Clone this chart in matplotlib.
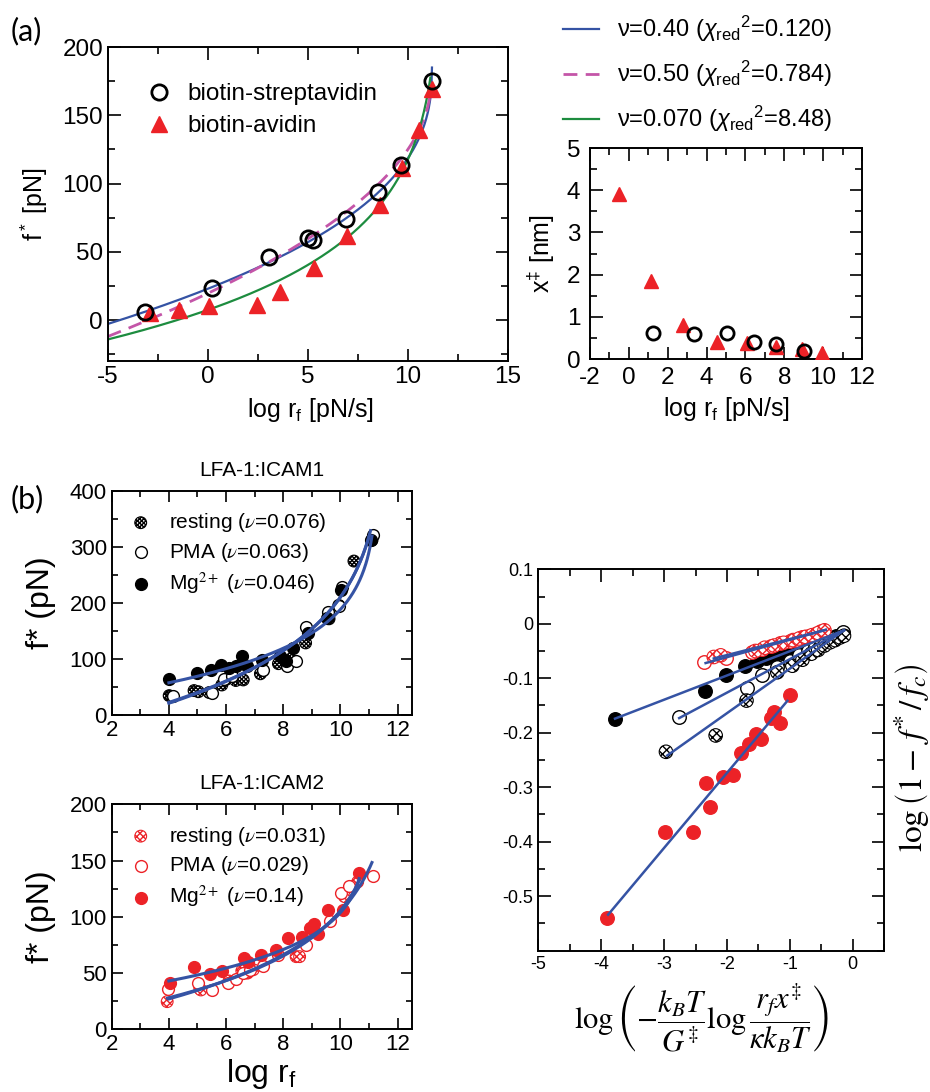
import numpy as np
import matplotlib
matplotlib.use('Agg')
import matplotlib.pyplot as plt
from matplotlib.ticker import MultipleLocator, FixedLocator

plt.rcParams['font.family'] = ['Liberation Sans', 'DejaVu Sans']
plt.rcParams['axes.unicode_minus'] = False
plt.rcParams['mathtext.fontset'] = 'custom'
plt.rcParams['mathtext.rm'] = 'Liberation Sans'
plt.rcParams['mathtext.it'] = 'Liberation Sans:italic'
plt.rcParams['hatch.linewidth'] = 1.0
plt.rcParams['axes.linewidth'] = 1.4

BLUE = '#3553a4'
MAGENTA = '#c455a8'
GREEN = '#1d8c3f'
RED = '#ec2227'

# ---------------- (a) biotin-streptavidin / biotin-avidin ----------------
sa_logr = [-3.15, 0.22, 3.03, 5.02, 5.27, 6.9, 8.52, 9.65, 11.18]
sa_force = [6.1, 23.4, 46.0, 59.8, 58.3, 73.8, 93.5, 113.9, 175.0]
av_logr = [-2.9, -1.45, 0.07, 2.43, 3.6, 5.3, 6.93, 8.6, 9.72, 10.55, 11.18]
av_force = [5.0, 7.4, 10.3, 11.0, 20.8, 38.5, 61.3, 84.0, 111.5, 139.0, 169.0]

# fitted curves f = fc * (1 - (b (Lc - log r))^nu)
fit_a_nu = [0.40, 0.50, 0.070]
fit_a_fc = [185.0, 175.0, 859.0]
fit_a_b = [0.0641, 0.0707, 0.0761]
fit_a_lc = [11.2, 11.15, 11.6]
fit_a_end = [11.2, 11.08, 11.12]
fit_a_chi = ['0.120', '0.784', '8.48']
fit_a_nu_txt = ['0.40', '0.50', '0.070']

# transition-state distance
xd_sa_logr = [1.26, 3.37, 5.03, 6.44, 7.57, 9.0]
xd_sa = [0.62, 0.59, 0.61, 0.41, 0.36, 0.20]
xd_av_logr = [-0.51, 1.14, 2.8, 4.55, 6.06, 7.57, 8.9, 9.92]
xd_av = [3.9, 1.85, 0.80, 0.41, 0.37, 0.29, 0.23, 0.15]

# ---------------- (b) LFA-1 ----------------
i1_rest_x = [4.01, 4.10, 4.88, 5.03, 5.41, 5.85, 6.0, 6.34, 6.6, 7.2, 7.83, 8.25, 8.78, 9.6, 9.94, 10.47, 11.1]
i1_rest_y = [35, 33, 44, 42, 40.5, 54, 64, 62, 63, 74, 92, 100, 129, 172, 196, 275, 312]
i1_pma_x = [4.13, 5.52, 5.93, 6.2, 7.3, 8.14, 8.43, 8.78, 9.57, 9.94, 10.05, 11.15]
i1_pma_y = [35, 39, 65, 70, 80, 87, 96, 157, 184, 194, 228, 322]
i1_mg_x = [4.01, 4.97, 5.47, 5.81, 6.1, 6.34, 6.57, 6.74, 7.27, 7.9, 8.08, 8.35, 8.85, 9.53, 10.03, 11.05]
i1_mg_y = [64, 76, 81, 90, 84, 87, 106, 88, 99, 106, 96, 120, 147, 173, 224, 313]

i2_rest_x = [3.94, 5.08, 5.12, 6.1, 6.55, 6.75, 6.95, 8.45, 8.57, 8.98, 10.14, 10.43, 10.6]
i2_rest_y = [24.6, 36, 35, 43, 52, 50, 53, 64.6, 64.6, 90, 118, 127, 131]
i2_pma_x = [3.98, 5.02, 5.49, 6.07, 6.36, 6.6, 6.83, 7.29, 7.81, 8.8, 9.62, 10.02, 10.3, 11.13]
i2_pma_y = [35.6, 40.9, 35, 41, 45, 50, 53, 56, 66, 75, 96, 121, 127, 136]
i2_mg_x = [4.03, 4.87, 5.43, 5.84, 6.62, 6.77, 7.23, 7.76, 8.16, 8.66, 8.92, 9.06, 9.21, 9.56, 10.08, 10.66]
i2_mg_y = [40.9, 55.7, 49.2, 52, 63, 60, 66, 70.5, 81, 82, 90, 94, 85, 106, 106, 139]

# fit parameters: rest, PMA, Mg2+
i1_nu = [0.076, 0.063, 0.046]
i1_fc = [1717.0, 2032.0, 1773.0]
i1_b = [0.1115, 0.1099, 0.0665]
i1_lc = [11.6, 11.6, 11.3]
i1_range = [(4.0, 11.0), (4.0, 11.05), (4.0, 11.1)]
i2_nu = [0.031, 0.029, 0.14]
i2_fc = [1621.0, 2002.0, 288.0]
i2_b = [0.0759, 0.0782, 0.0457]
i2_lc = [11.5, 12.0, 10.9]
i2_range = [(3.95, 10.65), (4.0, 11.1), (4.0, 10.65)]

# rescaled coordinates, same order: rest1, pma1, mg1, rest2, pma2, mg2
sc_rest1_x = [-2.97, -2.18, -1.69, -1.2, -0.96, -0.8, -0.66, -0.55, -0.45, -0.36, -0.28, -0.2, -0.14]
sc_rest1_y = [-0.235, -0.205, -0.141, -0.089, -0.077, -0.066, -0.055, -0.048, -0.040, -0.034, -0.030, -0.025, -0.022]
sc_pma1_x = [-2.77, -1.68, -1.44, -1.2, -1.0, -0.85, -0.72, -0.6, -0.5, -0.4, -0.3, -0.2, -0.15]
sc_pma1_y = [-0.172, -0.118, -0.094, -0.080, -0.068, -0.058, -0.050, -0.043, -0.037, -0.032, -0.027, -0.020, -0.016]
sc_mg1_x = [-3.78, -2.35, -2.02, -1.71, -1.52, -1.38, -1.25, -1.12, -1.0, -0.88, -0.78, -0.66, -0.55, -0.45, -0.36, -0.27]
sc_mg1_y = [-0.174, -0.123, -0.094, -0.078, -0.068, -0.063, -0.058, -0.054, -0.050, -0.046, -0.043, -0.039, -0.035, -0.031, -0.027, -0.023]
sc_rest2_x = [-2.21, -2.1, -1.55, -1.4, -1.25, -1.1, -0.95, -0.85, -0.75, -0.65, -0.55, -0.45]
sc_rest2_y = [-0.061, -0.058, -0.050, -0.044, -0.040, -0.035, -0.030, -0.027, -0.024, -0.021, -0.017, -0.012]
sc_pma2_x = [-2.36, -2.02, -1.6, -1.45, -1.3, -1.15, -1.0, -0.9, -0.8, -0.7, -0.6, -0.5]
sc_pma2_y = [-0.071, -0.063, -0.052, -0.046, -0.040, -0.036, -0.031, -0.029, -0.025, -0.022, -0.018, -0.014]
sc_mg2_x = [-3.91, -2.99, -2.54, -2.27, -2.33, -2.06, -1.9, -1.78, -1.65, -1.46, -1.54, -1.15, -1.30, -1.25, -1.0]
sc_mg2_y = [-0.540, -0.383, -0.383, -0.336, -0.292, -0.281, -0.277, -0.237, -0.220, -0.211, -0.203, -0.183, -0.173, -0.162, -0.131]
lin_slope = [0.0818, 0.0615, 0.0445, 0.0295, 0.0319, 0.1377]
lin_icpt = [-0.0005, -0.0034, -0.0059, 0.0015, 0.0025, 0.0017]
lin_range = [(-2.95, -0.14), (-2.76, -0.14), (-3.78, -0.14), (-2.21, -0.43), (-2.34, -0.43), (-3.89, -1.04)]


def dudko(logr, nu, fc, b, lc):
    return fc * (1.0 - (b * np.clip(lc - logr, 0, None)) ** nu)


def style_axes(ax, size):
    ax.tick_params(which='both', direction='in', top=True, right=True, labelsize=size, width=1.2)
    ax.tick_params(which='major', length=9)
    ax.tick_params(which='minor', length=5)


fig = plt.figure(figsize=(9.3, 10.92), dpi=100)

# ---- (a) left
ax1 = fig.add_axes([0.1161, 0.6694, 0.4301, 0.2875])
line_cols = [BLUE, MAGENTA, GREEN]
line_styles = ['-', (0, (5, 3)), '-']
fit_handles = []
for k in range(3):
    lr = np.linspace(-5, fit_a_end[k], 600)
    h, = ax1.plot(lr, dudko(lr, fit_a_nu[k], fit_a_fc[k], fit_a_b[k], fit_a_lc[k]),
                  color=line_cols[k], ls=line_styles[k], lw=1.6 if k != 1 else 2.0,
                  label='ν=%s ($\\chi_{\\rm red}{}^{2}$=%s)' % (fit_a_nu_txt[k], fit_a_chi[k]))
    fit_handles.append(h)
ax1.plot(av_logr, av_force, ls='none', marker='^', ms=11, color=RED, mec=RED, label='biotin-avidin', zorder=3)
ax1.plot(sa_logr, sa_force, ls='none', marker='o', ms=11, mfc='none', mec='black', mew=2, label='biotin-streptavidin', zorder=4)
ax1.set_xlim(-5, 15)
ax1.set_ylim(-30, 200)
ax1.xaxis.set_major_locator(MultipleLocator(5))
ax1.xaxis.set_minor_locator(MultipleLocator(2.5))
ax1.yaxis.set_major_locator(MultipleLocator(50))
ax1.yaxis.set_minor_locator(MultipleLocator(25))
style_axes(ax1, 17.5)
ax1.set_xlabel('log r$_\\mathrm{f}$ [pN/s]', fontsize=18)
ax1.xaxis.set_label_coords(0.505, -0.11)
ax1.set_ylabel('f$^*$ [pN]', fontsize=18)
ax1.yaxis.set_label_coords(-0.145, 0.5)
hs, ls_ = ax1.get_legend_handles_labels()
ax1.legend([hs[4], hs[3]], [ls_[4], ls_[3]], loc='upper left', bbox_to_anchor=(0.09, 0.885),
           frameon=False, fontsize=17.5, handletextpad=0.6, labelspacing=0.42,
           borderpad=0, borderaxespad=0, handlelength=1.2)

fig.legend(fit_handles, [h.get_label() for h in fit_handles], loc='upper left',
           bbox_to_anchor=(0.605, 0.987), frameon=False, fontsize=17,
           handlelength=1.55, handletextpad=0.75, labelspacing=0.62, borderpad=0, borderaxespad=0)

# ---- (a) right
ax2 = fig.add_axes([0.6344, 0.6712, 0.2925, 0.1932])
ax2.plot(xd_av_logr, xd_av, ls='none', marker='^', ms=10, color=RED, zorder=3)
ax2.plot(xd_sa_logr, xd_sa, ls='none', marker='o', ms=9.5, mfc='none', mec='black', mew=2, zorder=4)
ax2.set_xlim(-2, 12)
ax2.set_ylim(0, 5)
ax2.xaxis.set_major_locator(MultipleLocator(2))
ax2.xaxis.set_minor_locator(MultipleLocator(1))
ax2.yaxis.set_major_locator(MultipleLocator(1))
ax2.yaxis.set_minor_locator(MultipleLocator(0.5))
style_axes(ax2, 17.5)
ax2.tick_params(axis='x', pad=6)
ax2.tick_params(axis='y', pad=7)
ax2.set_xlabel('log r$_\\mathrm{f}$ [pN/s]', fontsize=18)
ax2.xaxis.set_label_coords(0.5, -0.17)
ax2.set_ylabel('x$^{\u2021}$ [nm]', fontsize=18)
ax2.yaxis.set_label_coords(-0.12, 0.5)

fig.text(0.011, 0.985, '(a)', fontsize=22, family=['Lato', 'DejaVu Sans'], va='top')
fig.text(0.011, 0.556, '(b)', fontsize=22, family=['Lato', 'DejaVu Sans'], va='top')


def lfa_panel(ax, xs, ys, cols, labels, nus, fcs, bs, lcs, ranges, ymax, ymaj, title, hatch):
    kinds = ['hatch', 'open', 'fill']
    for k in range(3):
        if kinds[k] == 'hatch':
            ax.scatter(xs[k], ys[k], s=72, facecolor='white', edgecolor=cols, hatch=hatch,
                       linewidth=0.8, label=labels[k], zorder=3)
        elif kinds[k] == 'open':
            ax.scatter(xs[k], ys[k], s=72, facecolor='white', edgecolor=cols, linewidth=1.0,
                       label=labels[k], zorder=3)
        else:
            ax.scatter(xs[k], ys[k], s=72, facecolor=cols, edgecolor=cols, linewidth=1.0,
                       label=labels[k], zorder=3)
    for k in range(3):
        lr = np.linspace(ranges[k][0], ranges[k][1], 300)
        ax.plot(lr, dudko(lr, nus[k], fcs[k], bs[k], lcs[k]), color=BLUE, lw=2.2, zorder=4)
    ax.set_xlim(2, 12.5)
    ax.set_ylim(0, ymax)
    ax.xaxis.set_major_locator(FixedLocator([2, 4, 6, 8, 10, 12]))
    ax.xaxis.set_minor_locator(FixedLocator([3, 5, 7, 9, 11]))
    ax.yaxis.set_major_locator(MultipleLocator(ymaj))
    ax.yaxis.set_minor_locator(MultipleLocator(ymaj / 2))
    style_axes(ax, 16)
    ax.tick_params(which='major', length=8)
    ax.tick_params(which='minor', length=4)
    ax.set_ylabel('f* (pN)', fontsize=23)
    ax.yaxis.set_label_coords(-0.185, 0.5)
    ax.text(0.5, 1.067, title, transform=ax.transAxes, ha='center', va='baseline', fontsize=15)
    leg = ax.legend(loc='upper left', bbox_to_anchor=(0.055, 0.91), frameon=False, fontsize=15,
                    handletextpad=0.75, labelspacing=0.32, borderpad=0, borderaxespad=0,
                    scatterpoints=1, handlelength=1.2)
    for t in leg.get_texts():
        t.set_math_fontfamily('stix')


ax3 = fig.add_axes([0.1201, 0.3450, 0.3229, 0.2054])
lfa_panel(ax3, [i1_rest_x, i1_pma_x, i1_mg_x], [i1_rest_y, i1_pma_y, i1_mg_y], 'black',
          ['resting ($\\nu$=0.076)', 'PMA ($\\nu$=0.063)', 'Mg$^{2+}$ ($\\nu$=0.046)'],
          i1_nu, i1_fc, i1_b, i1_lc, i1_range, 400, 100, 'LFA-1:ICAM1', 'xxxxxxxx')

ax4 = fig.add_axes([0.1201, 0.0574, 0.3229, 0.2060])
lfa_panel(ax4, [i2_rest_x, i2_pma_x, i2_mg_x], [i2_rest_y, i2_pma_y, i2_mg_y], RED,
          ['resting ($\\nu$=0.031)', 'PMA ($\\nu$=0.029)', 'Mg$^{2+}$ ($\\nu$=0.14)'],
          i2_nu, i2_fc, i2_b, i2_lc, i2_range, 200, 50, 'LFA-1:ICAM2', 'xxxxx')
ax4.set_xlabel('log r$_\\mathrm{f}$', fontsize=23)
ax4.xaxis.set_label_coords(0.5, -0.125)

# ---- (b) right: rescaled plot
ax5 = fig.add_axes([0.5788, 0.1294, 0.3720, 0.3493])
sc_x = [sc_rest1_x, sc_pma1_x, sc_mg1_x, sc_rest2_x, sc_pma2_x, sc_mg2_x]
sc_y = [sc_rest1_y, sc_pma1_y, sc_mg1_y, sc_rest2_y, sc_pma2_y, sc_mg2_y]
sc_col = ['black', 'black', 'black', RED, RED, RED]
sc_kind = ['hatch', 'open', 'fill', 'hatch', 'open', 'fill']
for k in [2, 1, 0, 5, 4, 3]:
    if sc_kind[k] == 'hatch':
        ax5.scatter(sc_x[k], sc_y[k], s=95, facecolor='white', edgecolor=sc_col[k], hatch='xxxx',
                    linewidth=0.8, zorder=3)
    elif sc_kind[k] == 'open':
        ax5.scatter(sc_x[k], sc_y[k], s=95, facecolor='white', edgecolor=sc_col[k], linewidth=1.0, zorder=3)
    else:
        ax5.scatter(sc_x[k], sc_y[k], s=95, facecolor=sc_col[k], edgecolor=sc_col[k], linewidth=1.0, zorder=3)
for k in range(6):
    xx = np.array(lin_range[k])
    ax5.plot(xx, lin_icpt[k] + lin_slope[k] * xx, color=BLUE, lw=1.8, zorder=4)
ax5.set_xlim(-5, 0.5)
ax5.set_ylim(-0.6, 0.1)
ax5.xaxis.set_major_locator(MultipleLocator(1))
ax5.xaxis.set_minor_locator(MultipleLocator(0.5))
ax5.yaxis.set_major_locator(FixedLocator([-0.5, -0.4, -0.3, -0.2, -0.1, 0.0, 0.1]))
ax5.yaxis.set_minor_locator(MultipleLocator(0.05))
ax5.yaxis.set_major_formatter(plt.FuncFormatter(lambda v, p: '0' if abs(v) < 1e-9 else '%g' % v))
style_axes(ax5, 13)
ax5.tick_params(which='major', length=9)
ax5.tick_params(which='minor', length=5)
ax5.text(0.472, -0.176, r'$\log\left(-\dfrac{k_BT}{G^{\ddagger}}\log\dfrac{r_fx^{\ddagger}}{\kappa k_BT}\right)$',
         transform=ax5.transAxes, ha='center', va='center', fontsize=22, math_fontfamily='stix')
ax5.text(1.08, 0.505, r'$\log\left(1-\,f^{*}\,/\,f_{c}\right)$', transform=ax5.transAxes,
         ha='center', va='center', rotation=90, fontsize=24, math_fontfamily='stix')

fig.savefig('out.png', dpi=100)
